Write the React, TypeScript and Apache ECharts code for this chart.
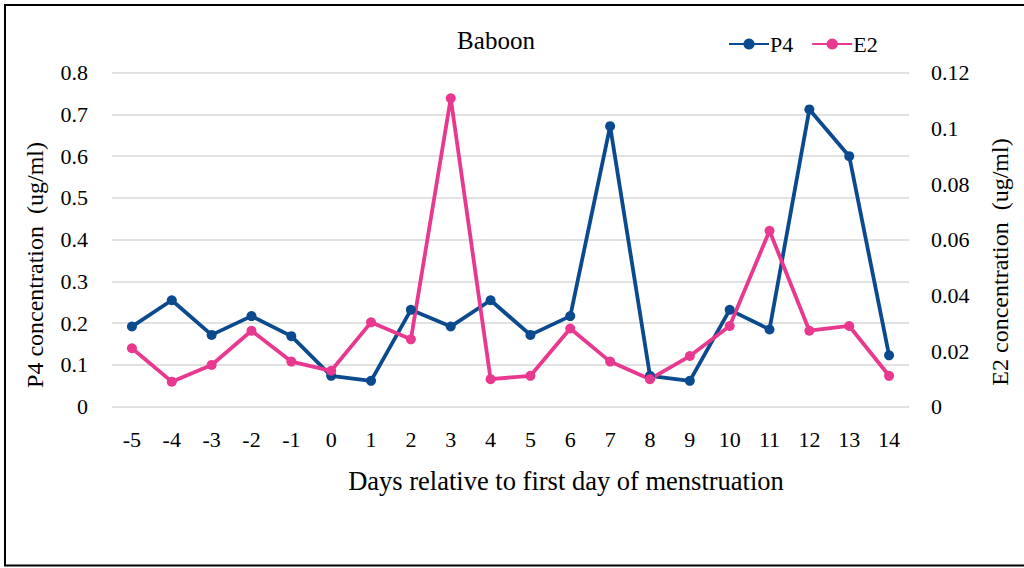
import React, { useEffect, useRef } from "react";
import * as echarts from "echarts";

const days = ["-5", "-4", "-3", "-2", "-1", "0", "1", "2", "3", "4", "5", "6", "7", "8", "9", "10", "11", "12", "13", "14"];
const p4Values = [0.192, 0.255, 0.172, 0.217, 0.169, 0.074, 0.062, 0.232, 0.192, 0.255, 0.172, 0.217, 0.672, 0.074, 0.062, 0.232, 0.185, 0.712, 0.6, 0.123];
const e2Values = [0.021, 0.009, 0.015, 0.0273, 0.0162, 0.0129, 0.0303, 0.0242, 0.1108, 0.0099, 0.0111, 0.0281, 0.0162, 0.0099, 0.0182, 0.029, 0.0632, 0.0273, 0.029, 0.0111];

const FONT = "Times New Roman, Liberation Serif, serif";
const P4_COLOR = "#0b4a8e";
const E2_COLOR = "#e8388f";

export default function App() {
  const ref = useRef<HTMLDivElement>(null);
  useEffect(() => {
    if (!ref.current) return;
    const chart = echarts.init(ref.current, null, { renderer: "svg" });
    const txt = (size: number) => ({ fontFamily: FONT, fontSize: size, fill: "#000", textAlign: "center", textVerticalAlign: "middle" });
    chart.setOption({
      animation: false,
      backgroundColor: "#fff",
      textStyle: { fontFamily: FONT },
      grid: { left: 112, right: 115, top: 72.7, bottom: 161.3 },
      legend: {
        left: 723,
        top: 28,
        itemWidth: 40,
        itemHeight: 14,
        itemGap: 18,
        textStyle: { fontFamily: FONT, fontSize: 22, color: "#000", padding: [0, 0, 0, -4] },
        data: ["P4", "E2"],
      },
      xAxis: {
        type: "category",
        data: days,
        boundaryGap: true,
        axisLine: { show: false },
        axisTick: { show: false },
        axisLabel: { fontFamily: FONT, fontSize: 22, color: "#000", margin: 22, interval: 0 },
      },
      yAxis: [
        {
          type: "value",
          min: 0,
          max: 0.8,
          interval: 0.1,
          axisLine: { show: false },
          axisTick: { show: false },
          splitLine: { lineStyle: { color: "#d9d9d9", width: 1.5 } },
          axisLabel: { fontFamily: FONT, fontSize: 22, color: "#000", margin: 24 },
        },
        {
          type: "value",
          min: 0,
          max: 0.12,
          interval: 0.02,
          axisLine: { show: false },
          axisTick: { show: false },
          splitLine: { show: false },
          axisLabel: { fontFamily: FONT, fontSize: 22, color: "#000", margin: 22 },
        },
      ],
      series: [
        {
          name: "P4",
          type: "line",
          data: p4Values,
          yAxisIndex: 0,
          symbol: "circle",
          symbolSize: 10,
          itemStyle: { color: P4_COLOR },
          lineStyle: { color: P4_COLOR, width: 3.8 },
        },
        {
          name: "E2",
          type: "line",
          data: e2Values,
          yAxisIndex: 1,
          symbol: "circle",
          symbolSize: 10,
          itemStyle: { color: E2_COLOR },
          lineStyle: { color: E2_COLOR, width: 3.8 },
        },
      ],
      graphic: [
        {
          type: "rect",
          shape: { x: 5, y: 5, width: 1030, height: 560.5 },
          style: { fill: "none", stroke: "#000", lineWidth: 2 },
          silent: true,
        },
        { type: "text", x: 496, y: 40, style: { text: "Baboon", ...txt(25) } },
        { type: "text", x: 566, y: 481, style: { text: "Days relative to first day of menstruation", ...txt(26.5) } },
        { type: "text", x: 35, y: 265, rotation: Math.PI / 2, style: { text: "P4 concentration  (ug/ml)", ...txt(24) } },
        { type: "text", x: 1000, y: 262, rotation: Math.PI / 2, style: { text: "E2 concentration  (ug/ml)", ...txt(24) } },
      ],
    });
    return () => chart.dispose();
  }, []);
  return (
    <div
      ref={ref}
      style={{ position: "fixed", left: 0, top: 0, width: 1024, height: 568, background: "#fff" }}
    />
  );
}
